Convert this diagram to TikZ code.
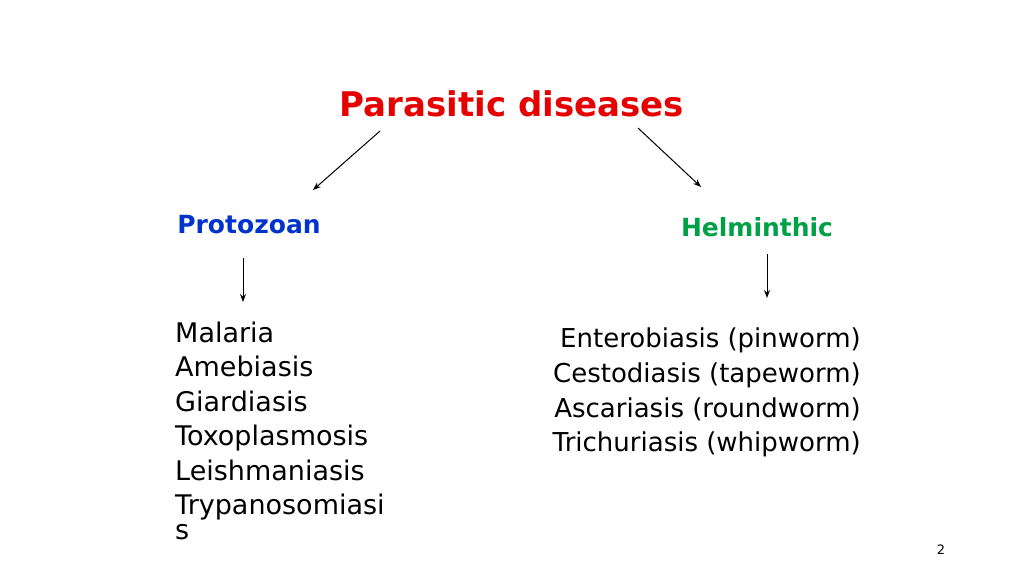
\documentclass[tikz,border=0pt]{standalone}
\usepackage{fontspec}
\setmainfont{DejaVu Sans}
\usetikzlibrary{arrows.meta}
\definecolor{tred}{RGB}{230,0,0}
\definecolor{tblue}{RGB}{0,51,204}
\definecolor{tgreen}{RGB}{0,160,70}
\begin{document}
\begin{tikzpicture}[x=1pt,y=-1pt,
  arr/.style={-{Stealth[length=8pt,width=6pt]},line width=1pt,black},
  item/.style={font=\fontsize{27}{29}\selectfont,inner sep=0pt}]
\useasboundingbox (0,0) rectangle (1024,576);
\node[text=tred,font=\bfseries\fontsize{34}{36}\selectfont] (t) at (512,104) {Parasitic diseases};
\node[text=tblue,font=\bfseries\fontsize{25}{27}\selectfont] (p) at (249,225) {Protozoan};
\node[text=tgreen,font=\bfseries\fontsize{25}{27}\selectfont] (h) at (757,227) {Helminthic};
\coordinate (a1) at (380,131); \coordinate (a2) at (313,190);
\coordinate (b1) at (638,128); \coordinate (b2) at (701,187);
\coordinate (c1) at (243,258); \coordinate (c2) at (243,302);
\coordinate (d1) at (767,254); \coordinate (d2) at (767,298);
\draw[arr] (a1) -- (a2);
\draw[arr] (b1) -- (b2);
\draw[arr] (c1) -- (c2);
\draw[arr] (d1) -- (d2);
\foreach \t [count=\i] in {Malaria,Amebiasis,Giardiasis,Toxoplasmosis,Leishmaniasis,Trypanosomiasi}
  \node[item,anchor=base west] (l\i) at (175,308+34.4*\i) {\t};
\node[item,anchor=base west] (l7) at (175,539) {s};
\node[item,font=\fontsize{26}{28}\selectfont,anchor=base east] (r1) at (861,347) {Enterobiasis (pinworm)};
\node[item,font=\fontsize{26}{28}\selectfont,anchor=base east] (r2) at (861,382) {Cestodiasis (tapeworm)};
\node[item,font=\fontsize{26}{28}\selectfont,anchor=base east] (r3) at (861,417) {Ascariasis (roundworm)};
\node[item,font=\fontsize{26}{28}\selectfont,anchor=base east] (r4) at (861,451) {Trichuriasis (whipworm)};
\node[font=\fontsize{13}{15}\selectfont] (n) at (941,550) {2};
\end{tikzpicture}
\end{document}
